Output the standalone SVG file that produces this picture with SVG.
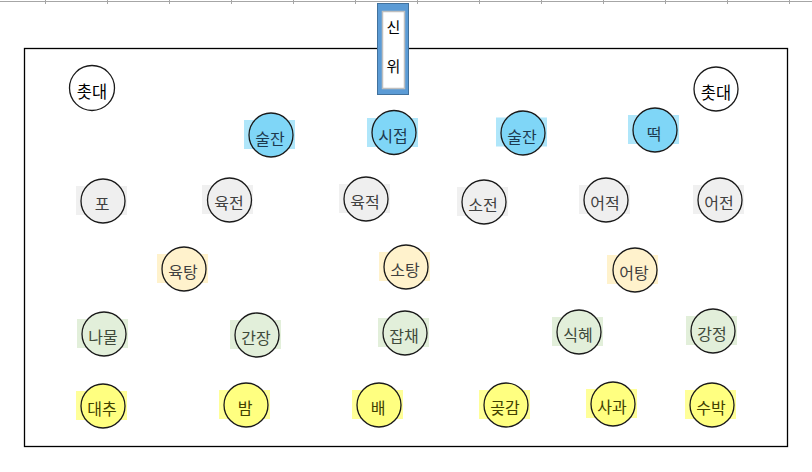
<svg xmlns="http://www.w3.org/2000/svg" width="812" height="472" viewBox="0 0 812 472">
<style>
  text { font-family: "Noto Sans CJK KR", "Noto Sans", sans-serif; font-size: 16px; text-anchor: middle; }
  .c { stroke: #1a1a1a; stroke-width: 1.3; }
  .w .c { fill: #ffffff; }
  .w text { fill: #000000; }
  .b .c { fill: #7fd6f7; }
  .b .h { fill: #afe6fa; }
  .b text { fill: #1d3a4f; }
  .g .c { fill: #efefef; }
  .g .h { fill: #f0f0f0; }
  .g text { fill: #404040; }
  .t .c { fill: #fff2cc; }
  .t .h { fill: #fff2cc; }
  .t text { fill: #404040; }
  .v .c { fill: #e2efda; }
  .v .h { fill: #e2efda; }
  .v text { fill: #3f4a3a; }
  .y .c { fill: #ffff80; }
  .y .h { fill: #ffff99; }
  .y text { fill: #404000; }
  .tick { stroke: #a6a6a6; stroke-width: 1; }
</style>
<rect x="0" y="0" width="812" height="472" fill="#ffffff"/>
<g id="grid-top">
  <line class="tick" x1="0" y1="1.5" x2="812" y2="1.5"/>
  <path class="tick" d="M45.5 0V4M107.5 0V4M169.5 0V4M231.5 0V4M293.5 0V4M355.5 0V4M417.5 0V4M479.5 0V4M541.5 0V4M603.5 0V4M665.5 0V4M727.5 0V4M789.5 0V4"/>
</g>
<g id="table">
  <rect x="24.5" y="48.5" width="763" height="398" fill="none" stroke="#000000" stroke-width="1.3"/>
</g>
<g id="sinwi">
  <rect x="377.5" y="3.5" width="31" height="91" fill="#5b9bd5" stroke="#41719c" stroke-width="1"/>
  <rect x="382.5" y="11.5" width="22" height="77" fill="#ffffff" stroke="#bfbfbf" stroke-width="1.5"/>
  <text x="393.5" y="33" fill="#000000" style="font-size:15px">신</text>
  <text x="393.5" y="72" fill="#000000" style="font-size:15px">위</text>
</g>
<g id="connectors"></g>

<g id="candle-left" class="w"><circle class="c" cx="92" cy="88" r="22.5"/><text x="92" y="97.5" style="font-size:16.5px">촛대</text></g>
<g id="candle-right" class="w"><circle class="c" cx="716" cy="89" r="22"/><text x="716" y="98.5" style="font-size:16.5px">촛대</text></g>

<g id="suljan-left" class="b"><rect class="h" x="244" y="120" width="51" height="29"/><circle class="c" cx="271" cy="135" r="22"/><text x="270" y="144.5">술잔</text></g>
<g id="sijeop" class="b"><rect class="h" x="367" y="118" width="51" height="29"/><circle class="c" cx="394" cy="132.5" r="22"/><text x="393" y="142">시접</text></g>
<g id="suljan-right" class="b"><rect class="h" x="496" y="117.5" width="51" height="29"/><circle class="c" cx="523" cy="133" r="22"/><text x="522" y="142.5">술잔</text></g>
<g id="tteok" class="b"><rect class="h" x="628" y="115" width="51" height="29"/><circle class="c" cx="655" cy="130" r="22"/><text x="654" y="139.5">떡</text></g>

<g id="po" class="g"><rect class="h" x="76" y="186" width="51" height="29"/><circle class="c" cx="103" cy="201" r="22"/><text x="102" y="209.5">포</text></g>
<g id="yukjeon" class="g"><rect class="h" x="202" y="185" width="51" height="29"/><circle class="c" cx="229.5" cy="200" r="22"/><text x="229" y="208.5">육전</text></g>
<g id="yukjeok" class="g"><rect class="h" x="339" y="184" width="51" height="29"/><circle class="c" cx="366" cy="199" r="22"/><text x="365" y="207.5">육적</text></g>
<g id="sojeon" class="g"><rect class="h" x="457" y="187" width="51" height="29"/><circle class="c" cx="484" cy="202" r="22"/><text x="483" y="210.5">소전</text></g>
<g id="eojeok" class="g"><rect class="h" x="579" y="185" width="51" height="29"/><circle class="c" cx="606" cy="200" r="22"/><text x="605" y="208.5">어적</text></g>
<g id="eojeon" class="g"><rect class="h" x="693" y="185" width="51" height="29"/><circle class="c" cx="720" cy="200" r="22"/><text x="719" y="208.5">어전</text></g>

<g id="yuktang" class="t"><rect class="h" x="157" y="254" width="51" height="29"/><circle class="c" cx="184" cy="269" r="22"/><text x="183" y="277.5">육탕</text></g>
<g id="sotang" class="t"><rect class="h" x="379" y="252" width="51" height="29"/><circle class="c" cx="406" cy="267" r="22"/><text x="405" y="275.5">소탕</text></g>
<g id="eotang" class="t"><rect class="h" x="607" y="255" width="51" height="29"/><circle class="c" cx="635" cy="270" r="22"/><text x="634" y="278.5">어탕</text></g>

<g id="namul" class="v"><rect class="h" x="77" y="319" width="51" height="29"/><circle class="c" cx="104" cy="334" r="22"/><text x="103" y="342.5">나물</text></g>
<g id="ganjang" class="v"><rect class="h" x="230" y="320" width="51" height="29"/><circle class="c" cx="257" cy="335" r="22"/><text x="256" y="343.5">간장</text></g>
<g id="japchae" class="v"><rect class="h" x="378" y="318" width="51" height="29"/><circle class="c" cx="405" cy="333" r="22"/><text x="404" y="341.5">잡채</text></g>
<g id="sikhye" class="v"><rect class="h" x="552" y="317" width="51" height="29"/><circle class="c" cx="579" cy="332" r="22"/><text x="578" y="340.5">식혜</text></g>
<g id="gangjeong" class="v"><rect class="h" x="686" y="316" width="51" height="29"/><circle class="c" cx="713" cy="331" r="22"/><text x="712" y="339.5">강정</text></g>

<g id="daechu" class="y"><rect class="h" x="76" y="391" width="51" height="29"/><circle class="c" cx="103" cy="406" r="22"/><text x="102" y="414.5">대추</text></g>
<g id="bam" class="y"><rect class="h" x="219" y="390" width="51" height="29"/><circle class="c" cx="246" cy="405" r="22"/><text x="245" y="413.5">밤</text></g>
<g id="bae" class="y"><rect class="h" x="352" y="390" width="51" height="29"/><circle class="c" cx="379" cy="405" r="22"/><text x="378" y="413.5">배</text></g>
<g id="gotgam" class="y"><rect class="h" x="479" y="390" width="51" height="29"/><circle class="c" cx="506" cy="405" r="22"/><text x="505" y="413.5">곶감</text></g>
<g id="sagwa" class="y"><rect class="h" x="586" y="389" width="51" height="29"/><circle class="c" cx="613" cy="404" r="22"/><text x="612" y="412.5">사과</text></g>
<g id="subak" class="y"><rect class="h" x="685" y="390" width="51" height="29"/><circle class="c" cx="712" cy="405" r="22"/><text x="711" y="413.5">수박</text></g>
</svg>
